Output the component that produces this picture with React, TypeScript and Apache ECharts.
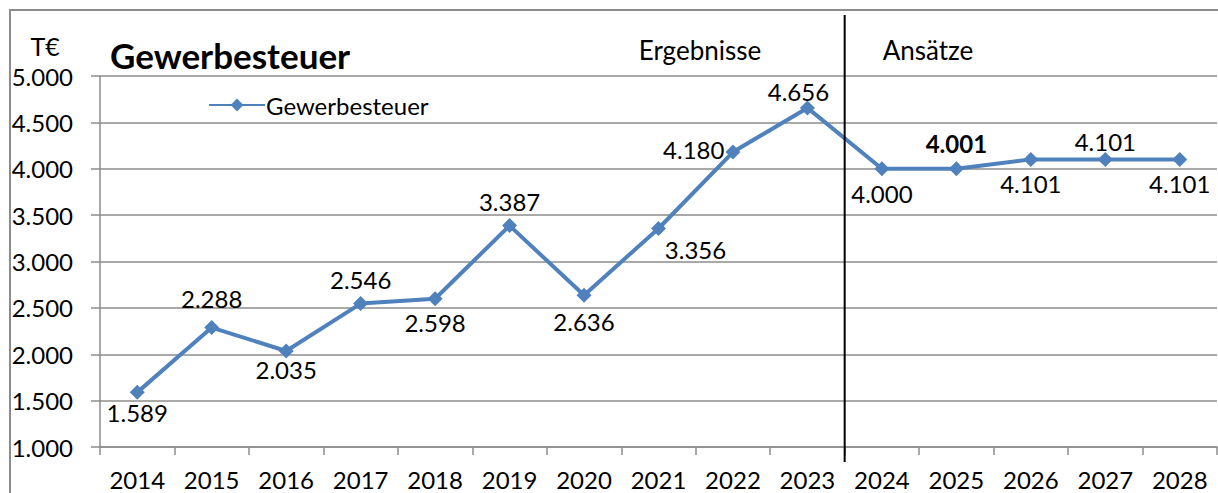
import React, { useEffect, useRef } from "react";
import * as echarts from "echarts";

const years = ["2014","2015","2016","2017","2018","2019","2020","2021","2022","2023","2024","2025","2026","2027","2028"];
const values = [1589, 2288, 2035, 2546, 2598, 3387, 2636, 3356, 4180, 4656, 4000, 4001, 4101, 4101, 4101];
const labelPlacement = ["bottom","top","bottom","top","bottom","top","bottom","bottom","left","top","bottom","top","bottom","top","bottom"];
const labelDx = [0, 0, 0, 0, 0, 0, 0, 37, -1, -9, 0, 0, 0, 0, 0];
const labelDy = [1, -10, -1, -5, 4, -5, 7, 2, -3, 3, 5, -6, 5, 2, 5];
const boldLabel = [false,false,false,false,false,false,false,false,false,false,false,true,false,false,false];
const yTicks = { min: 1000, max: 5000, interval: 500 };

const FONT = "Lato, 'Noto Sans', sans-serif";
const BLUE = "#4F81BD";
const GRID = "#8c8c8c";
const FS = 24;

function fmt(v: number) {
  return String(v).replace(/\B(?=(\d{3})+(?!\d))/g, ".");
}

export default function App() {
  const ref = useRef<HTMLDivElement>(null);
  useEffect(() => {
    if (!ref.current) return;
    const chart = echarts.init(ref.current, undefined, { renderer: "svg" });
    const data = values.map((v, i) => ({
      value: v,
      label: {
        position: labelPlacement[i],
        offset: [labelDx[i], labelDy[i]],
        distance: 0,
        fontWeight: boldLabel[i] ? "bold" : "normal",
      },
    }));
    const baseGraphic: any[] = [
      { type: "rect", silent: true, z: -1, shape: { x: 10, y: 10, width: 1230, height: 520 }, style: { fill: "none", stroke: GRID, lineWidth: 2 } },
      { type: "text", x: 45, y: 46, style: { text: "T€", fontSize: 25, fontFamily: FONT, fill: "#000", align: "center", verticalAlign: "middle" } },
      { type: "text", x: 110, y: 55, style: { text: "Gewerbesteuer", fontSize: 35, fontWeight: "bold", fontFamily: FONT, fill: "#000", align: "left", verticalAlign: "middle" } },
      { type: "text", x: 700, y: 50, style: { text: "Ergebnisse", fontSize: 26, fontFamily: FONT, fill: "#000", align: "center", verticalAlign: "middle" } },
      { type: "text", x: 928, y: 50, style: { text: "Ansätze", fontSize: 26, fontFamily: FONT, fill: "#000", align: "center", verticalAlign: "middle" } },
    ];
    chart.setOption({
      animation: false,
      textStyle: { fontFamily: FONT },
      grid: { left: 100, top: 76, right: 1, bottom: 46, containLabel: false },
      legend: {
        show: true,
        left: 203,
        top: 88,
        itemWidth: 56,
        itemHeight: 16,
        itemGap: 4,
        textStyle: { fontSize: FS, color: "#000", fontFamily: FONT, padding: [0, 0, 0, -4] },
        data: ["Gewerbesteuer"],
      },
      xAxis: {
        type: "category",
        data: years,
        boundaryGap: true,
        axisLine: { lineStyle: { color: GRID, width: 1.5 } },
        axisTick: { show: true, length: 8, lineStyle: { color: GRID, width: 1.5 } },
        axisLabel: { color: "#000", fontSize: FS, margin: 20, fontFamily: FONT },
      },
      yAxis: {
        type: "value",
        min: yTicks.min,
        max: yTicks.max,
        interval: yTicks.interval,
        axisLine: { show: true, lineStyle: { color: GRID, width: 1.5 } },
        axisTick: { show: true, length: 9, lineStyle: { color: GRID, width: 1.5 } },
        axisLabel: { color: "#000", fontSize: FS, margin: 27, formatter: (v: number) => fmt(v), fontFamily: FONT },
        splitLine: { show: true, lineStyle: { color: GRID, width: 1.5 } },
      },
      series: [
        {
          name: "Gewerbesteuer",
          type: "line",
          data,
          symbol: "diamond",
          symbolSize: 15,
          lineStyle: { color: BLUE, width: 4 },
          itemStyle: { color: BLUE },
          label: {
            show: true,
            color: "#000",
            fontSize: FS,
            fontFamily: FONT,
            formatter: (p: any) => fmt(p.value),
          },
        },
      ],
      graphic: baseGraphic,
    });
    const xa = chart.convertToPixel({ xAxisIndex: 0 }, years[9]) as number;
    const xb = chart.convertToPixel({ xAxisIndex: 0 }, years[10]) as number;
    const xm = (xa + xb) / 2;
    chart.setOption({
      graphic: [
        ...baseGraphic,
        { type: "line", silent: true, z: 100, shape: { x1: xm, y1: 15, x2: xm, y2: 462 }, style: { stroke: "#000", lineWidth: 2 } },
      ],
    }, { replaceMerge: ["graphic"] });
    return () => chart.dispose();
  }, []);
  return <div ref={ref} style={{ width: 1218, height: 493, position: "absolute", left: 0, top: 0, background: "#fff" }} />;
}
